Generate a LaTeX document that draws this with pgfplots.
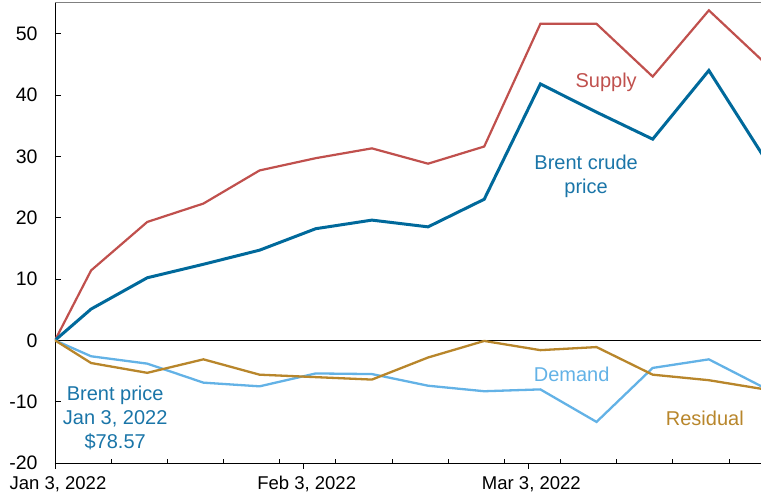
\documentclass[border=0pt]{standalone}
\usepackage{fontspec}
\setmainfont{Liberation Sans}
\usepackage{pgfplots}
\pgfplotsset{compat=1.18}
\definecolor{supply}{HTML}{C0504D}
\definecolor{brent}{HTML}{00699B}
\definecolor{brenttxt}{HTML}{1A75A8}
\definecolor{demand}{HTML}{63B2E6}
\definecolor{resid}{HTML}{B8862B}
\begin{document}
\begin{tikzpicture}
\begin{axis}[
  scale only axis,
  width=706pt, height=460pt,
  xmin=0, xmax=88, ymin=-20, ymax=55,
  axis x line*=bottom, axis y line*=left,
  axis line style={black, line width=0.9pt, -},
  xtick={0,31,59},
  xticklabels={{Jan 3{,} 2022}, {Feb 3{,} 2022}, {Mar 3{,} 2022}},
  xtick align=outside,
  major tick length=6pt,
  extra x ticks={7,14,21,28,35,42,49,56,63,70,77,84},
  extra x tick labels={},
  extra x tick style={tick align=inside, major tick length=3.5pt},
  ytick={-20,-10,0,10,20,30,40,50},
  yticklabels={-20,-10,0,10,20,30,40,50},
  ytick align=inside,
  tick style={black, line width=0.8pt},
  xticklabel style={font=\fontsize{18.5}{20}\selectfont, yshift=-4pt, xshift=3pt},
  yticklabel style={font=\fontsize{19.5}{20}\selectfont, xshift=-14pt},
  clip=true,
]
\draw[gray, line width=1pt] (rel axis cs:0,1) -- (rel axis cs:1,1);
\draw[black, line width=1.3pt] (axis cs:0,0) -- (axis cs:88,0);
\addplot[supply, line width=2.2pt] coordinates {
(0,0) (4.5,11.4) (11.5,19.3) (18.5,22.3) (25.5,27.7) (32.5,29.7) (39.5,31.3)
(46.5,28.8) (53.5,31.6) (60.5,51.6) (67.5,51.6) (74.5,43.0) (81.5,53.8) (88.5,45.2)};
\addplot[brent, line width=3pt] coordinates {
(0,0) (4.5,5.1) (11.5,10.2) (18.5,12.4) (25.5,14.7) (32.5,18.2) (39.5,19.6)
(46.5,18.5) (53.5,23.0) (60.5,41.8) (67.5,37.2) (74.5,32.8) (81.5,44.0) (88.5,29.6)};
\addplot[demand, line width=2.3pt] coordinates {
(0,0) (4.5,-2.6) (11.5,-3.8) (18.5,-6.9) (25.5,-7.5) (32.5,-5.4) (39.5,-5.5)
(46.5,-7.4) (53.5,-8.3) (60.5,-8.0) (67.5,-13.3) (74.5,-4.5) (81.5,-3.1) (88.5,-7.8)};
\addplot[resid, line width=2.3pt] coordinates {
(0,0) (4.5,-3.7) (11.5,-5.3) (18.5,-3.1) (25.5,-5.6) (32.5,-6.0) (39.5,-6.4)
(46.5,-2.8) (53.5,-0.1) (60.5,-1.6) (67.5,-1.1) (74.5,-5.6) (81.5,-6.5) (88.5,-8.0)};
\node[supply, font=\fontsize{20}{24}\selectfont] at (axis cs:68.7,42.0) {Supply};
\node[brenttxt, font=\fontsize{20}{24}\selectfont, align=center] at (axis cs:66.2,26.8) {Brent crude\\price};
\node[demand, font=\fontsize{20}{24}\selectfont] at (axis cs:64.4,-5.55) {Demand};
\node[resid, font=\fontsize{20}{24}\selectfont] at (axis cs:81.0,-12.7) {Residual};
\node[brenttxt, font=\fontsize{20}{24}\selectfont, align=center] at (axis cs:7.5,-12.7) {Brent price\\Jan 3, 2022\\\$78.57};
\end{axis}
\pgfresetboundingbox
\path[use as bounding box] ([shift={(-55pt,-33pt)}]current axis.south west) rectangle ([shift={(0pt,3pt)}]current axis.north east);
\end{tikzpicture}
\end{document}
